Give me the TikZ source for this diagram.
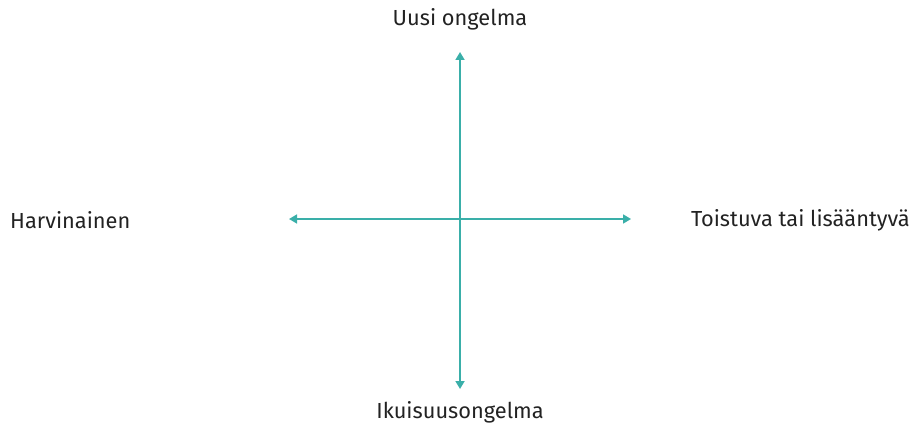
\documentclass[tikz,border=0pt]{standalone}
\usepackage{fontspec}
\setmainfont{Fira Sans}
\usetikzlibrary{arrows.meta}
\definecolor{teal1}{HTML}{3AAFA9}
\definecolor{txt}{HTML}{222222}
\begin{document}
\begin{tikzpicture}[x=1pt,y=-1pt,
  axis/.style={draw=teal1,line width=1.7pt,{Triangle[width=9pt,length=8pt]}-{Triangle[width=9pt,length=8pt]}},
  lbl/.style={text=txt,font=\fontsize{21.8}{24}\selectfont,inner sep=0pt}]
\useasboundingbox (0,0) rectangle (912,428);
\coordinate (top) at (460,52);
\coordinate (bot) at (460,389);
\coordinate (lft) at (289,219);
\coordinate (rgt) at (631,219);
\draw[axis] (top) -- (bot);
\draw[axis] (lft) -- (rgt);
\node[lbl] (u) at (460,19) {Uusi ongelma};
\node[lbl] (i) at (460,412) {Ikuisuusongelma};
\node[lbl,anchor=west] (h) at (10,220) {Harvinainen};
\node[lbl,anchor=east] (t) at (910,220) {Toistuva tai lisääntyvä};
\end{tikzpicture}
\end{document}
